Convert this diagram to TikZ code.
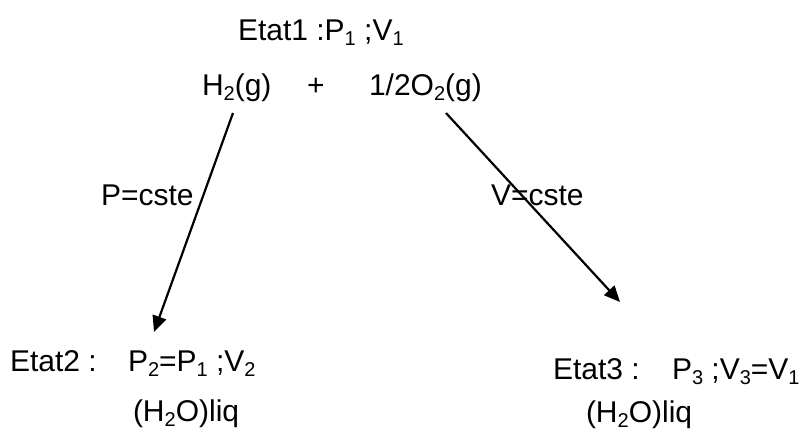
\documentclass[tikz,border=0pt]{standalone}
\usepackage{fontspec}
\setmainfont{Liberation Sans}
\usetikzlibrary{arrows.meta}
\newcommand\lowidx[1]{\raisebox{-5pt}{\fontsize{20}{20}\selectfont #1}}
\tikzset{
  txt/.style={anchor=base west, inner sep=0pt, outer sep=0pt, font=\fontsize{30}{36}\selectfont},
  conn/.style={line width=2.2pt, -{Triangle[length=16pt,width=14pt]}},
}
\begin{document}
\begin{tikzpicture}[x=1pt,y=-1pt]
\useasboundingbox (0,0) rectangle (805,432);
\node[txt] (e1) at (238,40) {Etat1 :P\lowidx{1} ;V\lowidx{1}};
\node[txt] (h2) at (202,95) {H\lowidx{2}(g)};
\node[txt] (plus) at (307,95) {+};
\node[txt] (o2) at (369,95) {1/2O\lowidx{2}(g)};
\node[txt] (pc) at (101,205) {P=cste};
\node[txt] (vc) at (491,205) {V=cste};
\node[txt] (e2) at (10,371) {Etat2 :};
\node[txt] (s2) at (128,371) {P\lowidx{2}=P\lowidx{1} ;V\lowidx{2}};
\node[txt] (l2) at (133,421) {(H\lowidx{2}O)liq};
\node[txt] (e3) at (553,379) {Etat3 :};
\node[txt] (s3) at (672,379) {P\lowidx{3} ;V\lowidx{3}=V\lowidx{1}};
\node[txt] (l3) at (586,422) {(H\lowidx{2}O)liq};
\coordinate (a1s) at (233,113);
\coordinate (a1e) at (154,332);
\coordinate (a2s) at (446,113);
\coordinate (a2e) at (620,302);
\draw[conn] (a1s) -- (a1e);
\draw[conn] (a2s) -- (a2e);
\end{tikzpicture}
\end{document}
